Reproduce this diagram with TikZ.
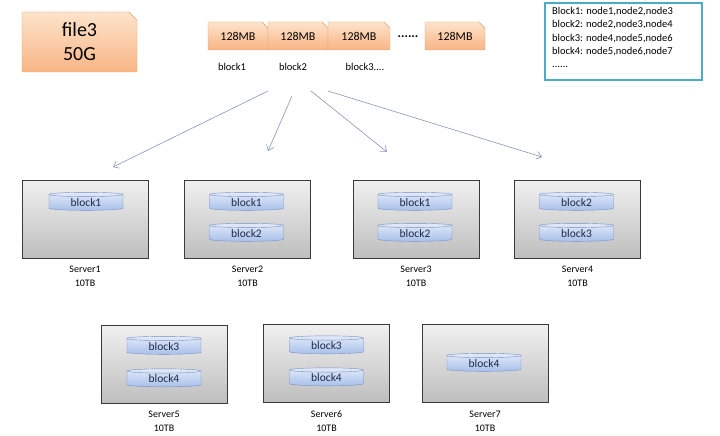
\documentclass[tikz,border=0pt]{standalone}
\usepackage{fontspec}
\setmainfont{Carlito}
\usetikzlibrary{positioning,shapes.geometric,shapes.misc,arrows.meta,calc}

\definecolor{chunktop}{HTML}{FDE3CC}
\definecolor{chunkbot}{HTML}{F8B584}
\definecolor{chunkline}{HTML}{E8A06C}
\definecolor{blktop}{HTML}{E2EAF8}
\definecolor{blkbot}{HTML}{A8C0EA}
\definecolor{blkline}{HTML}{7790C4}
\definecolor{blktext}{HTML}{1F2B48}
\definecolor{srvtop}{HTML}{F0F0F0}
\definecolor{srvbot}{HTML}{BEBEBE}
\definecolor{srvline}{HTML}{3A3A3A}
\definecolor{metaline}{HTML}{4BACC6}
\definecolor{arrowcol}{HTML}{8496B6}

\tikzset{
  chunk/.style={chamfered rectangle, chamfered rectangle corners=north east,
    chamfered rectangle xsep=3pt, chamfered rectangle ysep=3pt,
    draw=chunkline, top color=chunktop, bottom color=chunkbot,
    minimum height=28pt, inner sep=0pt, font=\fontsize{12}{14}\selectfont},
  server/.style={rectangle, draw=srvline, line width=0.8pt,
    top color=srvtop, bottom color=srvbot,
    minimum width=126pt, minimum height=78pt},
  blk/.style={cylinder, shape border rotate=90, aspect=0.14,
    draw=blkline, top color=blktop, bottom color=blkbot,
    minimum width=74pt, minimum height=18pt, inner sep=0pt,
    text=blktext, font=\fontsize{11.5}{13}\selectfont},
  srvlabel/.style={align=center, font=\fontsize{10}{14}\selectfont},
  small/.style={font=\fontsize{10.5}{12}\selectfont},
  link/.style={-{Straight Barb[length=5pt,width=8pt]}, draw=arrowcol, line width=0.6pt}
}

\begin{document}
\begin{tikzpicture}[x=1pt,y=-1pt]
\useasboundingbox (0,0) rectangle (720,436);

% Offsets of the blocks inside a server
\def\upperblk{-16.5}
\def\lowerblk{14.5}

% The file
\node[chunk, chamfered rectangle xsep=4pt, chamfered rectangle ysep=4pt,
  minimum width=115pt, minimum height=60pt, align=center,
  font=\fontsize{20}{24}\selectfont] (file) at (79.5,42) {file3\\50G};

% The file cut into 128MB pieces
\node[chunk, minimum width=60pt] (c1) at (238,36) {128MB};
\node[chunk, minimum width=60pt] (c2) at (298,36) {128MB};
\node[chunk, minimum width=62pt] (c3) at (359,36) {128MB};
\node[font=\bfseries\fontsize{13}{14}\selectfont] (dots) at (408,37) {......};
\node[chunk, minimum width=60pt] (c4) at (455,36) {128MB};

\node[small] (l1) at (232,67) {block1};
\node[small] (l2) at (293,67) {block2};
\node[small] (l3) at (365,67) {block3....};

% Block to node table
\draw[metaline, line width=1.6pt] (545,3) rectangle (702,80);
\node[anchor=north west, align=left, inner sep=0pt,
  font=\fontsize{10.5}{13.3}\selectfont] (meta) at (552,7)
  {Block1: node1,node2,node3\\
   block2: node2,node3,node4\\
   block3: node4,node5,node6\\
   block4: node5,node6,node7\\
   ......};

% Servers
\foreach \name/\xx/\yy in {s1/85/219, s2/247.5/219, s3/416/219, s4/577.5/219,
                           s5/164/364, s6/326.5/363.5, s7/485/363.5} {
  \node[server] (\name) at (\xx,\yy) {};
}
\foreach \name/\num/\yy in {s1/1/276, s2/2/276, s3/3/276, s4/4/276,
                            s5/5/421, s6/6/421, s7/7/421} {
  \node[srvlabel] (\name lbl) at (\name.center |- 0,\yy) {Server\num\\10TB};
}

% Replicas on every server
\node[blk] (b11) at ($(s1.center)+(1,\upperblk)$) {block1};
\node[blk] (b21) at ($(s2.center)+(-1,\upperblk)$) {block1};
\node[blk] (b22) at ($(s2.center)+(-1,\lowerblk)$) {block2};
\node[blk] (b31) at ($(s3.center)+(-1,\upperblk)$) {block1};
\node[blk] (b32) at ($(s3.center)+(-1,\lowerblk)$) {block2};
\node[blk] (b42) at ($(s4.center)+(-1,\upperblk)$) {block2};
\node[blk] (b43) at ($(s4.center)+(-1,\lowerblk)$) {block3};
\node[blk] (b53) at ($(s5.center)+(0,\upperblk-1)$) {block3};
\node[blk] (b54) at ($(s5.center)+(0,\lowerblk+0.5)$) {block4};
\node[blk] (b63) at ($(s6.center)+(0,\upperblk-1)$) {block3};
\node[blk] (b64) at ($(s6.center)+(0,\lowerblk)$) {block4};
\node[blk] (b74) at ($(s7.center)+(-1,0)$) {block4};

% Arrows from the pieces to the servers
\coordinate (from1) at (268,91);
\coordinate (from2) at (292,96);
\coordinate (from3) at (311,91);
\coordinate (from4) at (328,91);
\coordinate (to1) at (113,167);
\coordinate (to2) at (268,151);
\coordinate (to3) at (387,152);
\coordinate (to4) at (542,157);
\foreach \i in {1,...,4} {
  \draw[link] (from\i) -- (to\i);
}

\end{tikzpicture}
\end{document}
